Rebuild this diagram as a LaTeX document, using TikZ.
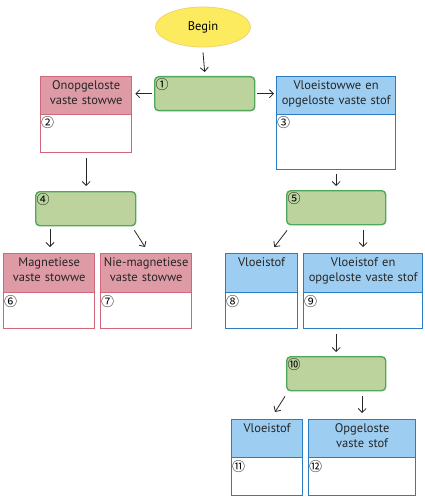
\documentclass[tikz,border=0pt]{standalone}
\usepackage{fontspec}
\setmainfont{PT Sans}
\newfontfamily\numfont{Noto Sans CJK SC}
\usetikzlibrary{shapes.geometric,arrows.meta,calc}
\definecolor{gfill}{HTML}{BCD39E}
\definecolor{gdraw}{HTML}{4FA85C}
\definecolor{rfill}{HTML}{DE9BA5}
\definecolor{rdraw}{HTML}{D0677A}
\definecolor{bfill}{HTML}{9DCEF2}
\definecolor{bdraw}{HTML}{2A7CC4}
\definecolor{yfill}{HTML}{FCEB5E}
\definecolor{ydraw}{HTML}{F2D36A}
\newcommand\mybox[9]{%
  \node[#2box, minimum width=#5, minimum height=#6] (#1) at (#3,#4) {};
  \node[#2head, minimum width=#5, minimum height=#7] (#1h) at (#1.north west) {};
  \node[headtext, text width=#5] (#1t) at (#1h.north) {#8};
  \node[numlab] (#1n) at (#1h.south west) {#9};
}
\begin{document}
\begin{tikzpicture}[x=1pt,y=-1pt,
  font=\fontsize{12.5}{15}\selectfont,
  start/.style={ellipse, draw=ydraw, fill=yfill, line width=0.8pt, minimum width=95, minimum height=40, inner sep=0},
  greenbox/.style={draw=gdraw, fill=gfill, line width=1.4pt, rounded corners=4pt, anchor=north west, minimum width=100, minimum height=34, inner sep=0},
  redbox/.style={draw=rdraw, fill=white, line width=1.3pt, anchor=north west, inner sep=0},
  redhead/.style={draw=rdraw, fill=rfill, line width=1.3pt, anchor=north west, inner sep=0},
  bluebox/.style={draw=bdraw, fill=white, line width=1.3pt, anchor=north west, inner sep=0},
  bluehead/.style={draw=bdraw, fill=bfill, line width=1.3pt, anchor=north west, inner sep=0},
  headtext/.style={anchor=north, align=center, inner sep=0, yshift=-4pt, text=black!85},
  numlab/.style={anchor=north west, inner sep=0, xshift=1pt, yshift=-1.5pt, font=\numfont\fontsize{13}{13}\selectfont},
  greennum/.style={anchor=north west, inner sep=0, xshift=1.5pt, yshift=-2.5pt, font=\numfont\fontsize{13}{13}\selectfont},
  arr/.style={-{Straight Barb[length=4pt,width=8pt]}, line width=0.8pt, black!85}]
\useasboundingbox (0,0) rectangle (425,500);

\node[start] (begin) at (203,27) {Begin};

\node[greenbox] (b1) at (154,76) {};
\node[greennum] (b1n) at (b1.north west) {①};
\node[greenbox] (b4) at (35,191) {};
\node[greennum] (b4n) at (b4.north west) {④};
\node[greenbox, minimum width=99] (b5) at (286,190) {};
\node[greennum] (b5n) at (b5.north west) {⑤};
\node[greenbox, minimum width=99] (b10) at (286,356) {};
\node[greennum] (b10n) at (b10.north west) {⑩};

\mybox{b2}{red}{40}{76}{91}{76}{38}{Onopgeloste\\vaste stowwe}{②}
\mybox{b3}{blue}{276}{76}{119}{93}{38}{Vloeistowwe en\\opgeloste vaste stof}{③}
\mybox{b6}{red}{3}{253}{91}{75}{39}{Magnetiese\\vaste stowwe}{⑥}
\mybox{b7}{red}{100}{253}{91}{75}{39}{Nie-magnetiese\\vaste stowwe}{⑦}
\mybox{b8}{blue}{225}{253}{72}{75}{39}{Vloeistof}{⑧}
\mybox{b9}{blue}{303}{253}{119}{75}{39}{Vloeistof en\\opgeloste vaste stof}{⑨}
\mybox{b11}{blue}{231}{419}{71}{76}{38}{Vloeistof}{⑪}
\mybox{b12}{blue}{308}{419}{107}{76}{38}{Opgeloste\\vaste stof}{⑫}

\draw[arr] ($(begin.south)+(0,5)$) -- ($(b1.north)+(0,-4)$);
\draw[arr] ($(b1.west)+(-2,0)$) -- ($(b1.west -| b2.east)+(3,0)$);
\draw[arr] ($(b1.east)+(2,0)$) -- ($(b1.east -| b3.west)+(-2,0)$);
\draw[arr] ($(b2.south)+(0,5)$) -- ($(b2.south |- b4.north)+(0,-5)$);
\draw[arr] ($(b3.south)+(0,4)$) -- ($(b3.south |- b5.north)+(0,-4)$);
\draw[arr] ($(b4.south west)+(15,3)$) -- ($(b4.south west |- b6.north)+(15,-6)$);
\draw[arr] ($(b4.south east)+(-2,4)$) -- ($(b7.north west)+(45,-6)$);
\draw[arr] ($(b5.south west)+(1,5)$) -- ($(b8.north east)+(-24,-6)$);
\draw[arr] ($(b9.north |- b5.south)+(0,5)$) -- ($(b9.north)+(0,-6)$);
\draw[arr] ($(b10.north |- b9.south)+(0,5)$) -- ($(b10.north)+(0,-4)$);
\draw[arr] ($(b10.south west)+(-1,5)$) -- ($(b11.north west)+(44,-7)$);
\draw[arr] ($(b12.north |- b10.south)+(0,5)$) -- ($(b12.north)+(0,-6)$);
\end{tikzpicture}
\end{document}
